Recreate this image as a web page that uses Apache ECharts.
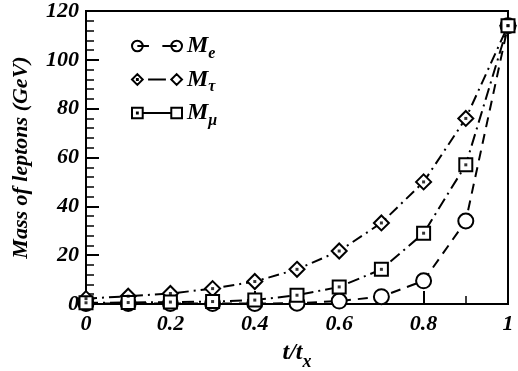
<!DOCTYPE html>
<html>
<head>
<meta charset="utf-8">
<script src="https://cdn.jsdelivr.net/npm/echarts@6/dist/echarts.min.js"></script>
<style>
  html, body { margin: 0; padding: 0; background: #fff; }
  #chart { width: 518px; height: 371px; }
</style>
</head>
<body>
<div id="chart"></div>
<script>
// t/t_x sample points
const tValues = [0, 0.1, 0.2, 0.3, 0.4, 0.5, 0.6, 0.7, 0.8, 0.9, 1.0];
// masses in GeV
const massE   = [0.2, 0.2, 0.2, 0.2, 0.2, 0.3, 1.2, 3, 9.5, 34, 114];
const massTau = [2.2, 3.2, 4.3, 6.3, 9.2, 14.2, 21.7, 33.2, 50, 76, 114];
const massMu  = [0.5, 0.6, 0.8, 1.0, 1.6, 3.6, 7, 14.2, 29, 57, 114];

const seriesNames = ['Me', 'Mtau', 'Mmu'];
const subscripts = { Me: 'e', Mtau: 'τ', Mmu: 'μ' };

// legend icons: marker - line - marker, like the original key
const legendIcons = {
  Me: 'path://M1,7a6,6 0 1,0 12,0a6,6 0 1,0 -12,0M7,7L20,7M35,7L51,7M45,7a6,6 0 1,0 12,0a6,6 0 1,0 -12,0',
  Mtau: 'path://M1,7L7,1L13,7L7,13ZM6.5,6.5h1v1h-1ZM19,7L39,7M45,7L51,1L57,7L51,13Z',
  Mmu: 'path://M1,1h12v12h-12ZM6.5,6.5h1v1h-1ZM13,7L45,7M45,1h12v12h-12Z'
};

const font = 'Liberation Serif';
const pairs = ys => tValues.map((t, i) => [t, ys[i]]);

const chart = echarts.init(document.getElementById('chart'));

const lineSeries = (name, ys, symbol, size, dash) => ({
  name: name,
  type: 'line',
  data: pairs(ys),
  symbol: symbol,
  symbolSize: size,
  showAllSymbol: true,
  lineStyle: { color: '#000', width: 2, type: dash },
  itemStyle: { color: '#fff', borderColor: '#000', borderWidth: 2 },
  z: 3
});

// small black dot inside diamonds and squares
const dotSeries = ys => ({
  type: 'scatter',
  data: pairs(ys),
  symbol: 'rect',
  symbolSize: 3,
  itemStyle: { color: '#000' },
  silent: true,
  z: 4
});

const option = {
  animation: false,
  backgroundColor: '#fff',
  grid: {
    left: 86, right: 10, top: 11, bottom: 67,
    outerBoundsMode: 'none',
    show: true, borderColor: '#000', borderWidth: 2
  },
  legend: {
    data: seriesNames.map(n => ({ name: n, icon: legendIcons[n] })),
    orient: 'vertical',
    left: 126, top: 29,
    itemGap: 6,
    itemWidth: 50, itemHeight: 11,
    itemStyle: { color: '#fff', borderColor: '#000', borderWidth: 2 },
    formatter: name => '{m|M}{s|' + subscripts[name] + '}',
    textStyle: {
      rich: {
        m: { fontFamily: font, fontWeight: 'bold', fontStyle: 'italic', fontSize: 24, color: '#000' },
        s: { fontFamily: font, fontWeight: 'bold', fontStyle: 'italic', fontSize: 16, color: '#000', padding: [15, 0, 0, 0] }
      }
    }
  },
  xAxis: {
    type: 'value',
    min: 0, max: 1, interval: 0.2,
    name: '{a|t/t}{b|x}',
    nameLocation: 'middle',
    nameGap: 31,
    nameTextStyle: {
      rich: {
        a: { fontFamily: font, fontWeight: 'bold', fontStyle: 'italic', fontSize: 24, color: '#000' },
        b: { fontFamily: font, fontWeight: 'bold', fontStyle: 'italic', fontSize: 18, color: '#000', padding: [18, 0, 0, 0] }
      }
    },
    axisLine: { lineStyle: { color: '#000', width: 2 } },
    axisTick: { inside: true, length: 13, lineStyle: { color: '#000', width: 2 } },
    minorTick: { show: true, splitNumber: 2, length: 8, lineStyle: { color: '#000', width: 1.5 } },
    splitLine: { show: false },
    axisLabel: {
      fontFamily: font, fontWeight: 'bold', fontStyle: 'italic', fontSize: 22, color: '#000', margin: 9
    }
  },
  yAxis: {
    type: 'value',
    min: 0, max: 120, interval: 20,
    name: 'Mass of leptons (GeV)',
    nameLocation: 'middle',
    nameGap: 54,
    nameTextStyle: {
      fontFamily: font, fontWeight: 'bold', fontStyle: 'italic', fontSize: 22, color: '#000'
    },
    axisLine: { lineStyle: { color: '#000', width: 2 } },
    axisTick: { inside: true, length: 13, lineStyle: { color: '#000', width: 2 } },
    minorTick: { show: true, splitNumber: 5, length: 8, lineStyle: { color: '#000', width: 1.5 } },
    splitLine: { show: false },
    axisLabel: {
      fontFamily: font, fontWeight: 'bold', fontStyle: 'italic', fontSize: 22, color: '#000', margin: 7
    }
  },
  series: [
    lineSeries('Me', massE, 'circle', 15, [10, 7]),
    lineSeries('Mtau', massTau, 'diamond', 15, [11, 5, 2, 5]),
    lineSeries('Mmu', massMu, 'rect', 13, [12, 5, 2, 5]),
    dotSeries(massTau),
    dotSeries(massMu)
  ]
};

chart.setOption(option);
</script>
</body>
</html>
